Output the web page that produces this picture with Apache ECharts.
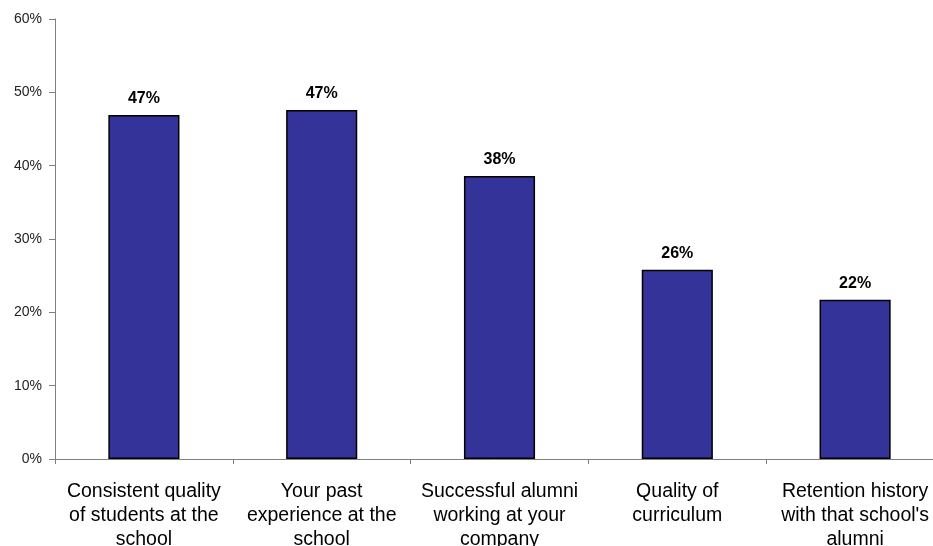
<!DOCTYPE html>
<html>
<head>
<meta charset="utf-8">
<script src="https://cdn.jsdelivr.net/npm/echarts@6/dist/echarts.min.js"></script>
<style>html,body{margin:0;padding:0;background:#fff;}#c{width:933px;height:546px;}</style>
</head>
<body>
<div id="c"></div>
<script>
var categories = [
  "Consistent quality\nof students at the\nschool",
  "Your past\nexperience at the\nschool",
  "Successful alumni\nworking at your\ncompany",
  "Quality of\ncurriculum",
  "Retention history\nwith that school's\nalumni"
];
var values = [46.9, 47.6, 38.6, 25.8, 21.7];
var valueLabels = ["47%", "47%", "38%", "26%", "22%"];
var yTicks = [0, 10, 20, 30, 40, 50, 60];

var chart = echarts.init(document.getElementById('c'), null, {renderer: 'canvas'});
chart.setOption({
  animation: false,
  backgroundColor: '#ffffff',
  grid: {left: 55, right: -11, top: 19, bottom: 87, outerBoundsMode: 'none', containLabel: false},
  xAxis: {
    type: 'category',
    data: categories,
    axisLine: {lineStyle: {color: '#808080', width: 1}},
    axisTick: {show: true, length: 5, lineStyle: {color: '#808080'}},
    axisLabel: {
      color: '#000', fontFamily: 'Liberation Sans, Arial, sans-serif', fontSize: 19.5,
      lineHeight: 24, margin: 21, interval: 0
    }
  },
  yAxis: {
    type: 'value',
    min: yTicks[0], max: yTicks[yTicks.length - 1], interval: 10,
    splitLine: {show: false},
    axisLine: {show: true, lineStyle: {color: '#808080', width: 1}},
    axisTick: {show: true, length: 6, lineStyle: {color: '#808080'}},
    axisLabel: {
      color: '#222', fontFamily: 'Liberation Sans, Arial, sans-serif', fontSize: 14, margin: 13,
      formatter: function (v) { return v + '%'; }
    }
  },
  series: [{
    type: 'bar',
    data: values,
    barWidth: '40%',
    itemStyle: {color: '#333399', borderColor: '#000', borderWidth: 1.5},
    label: {
      show: true, position: 'top', distance: 8,
      color: '#000', fontWeight: 'bold', fontSize: 16,
      fontFamily: 'Liberation Sans, Arial, sans-serif',
      formatter: function (p) { return valueLabels[p.dataIndex]; }
    }
  }]
});
</script>
</body>
</html>
